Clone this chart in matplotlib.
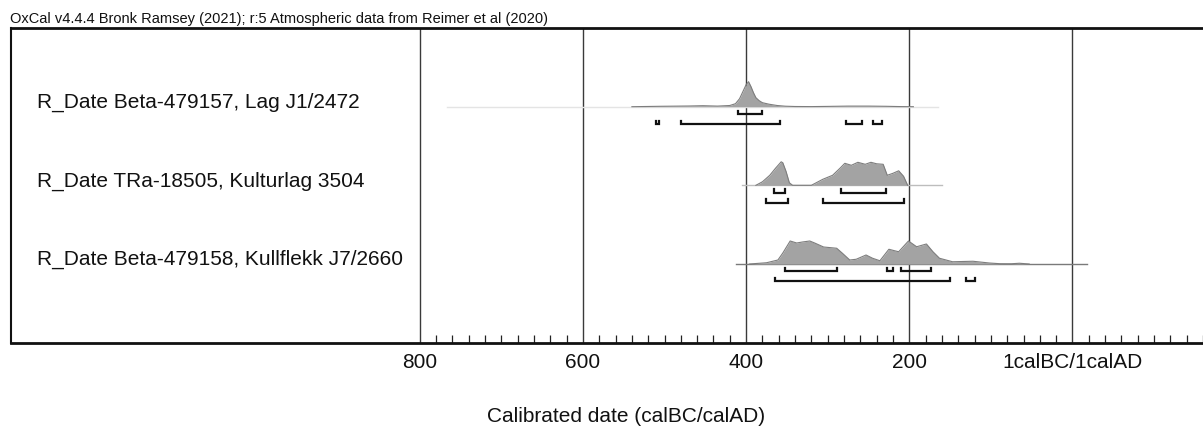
import matplotlib
matplotlib.use('Agg')
import matplotlib.pyplot as plt
import numpy as np

plt.rcParams['font.family'] = ['Liberation Sans', 'DejaVu Sans']

header = "OxCal v4.4.4 Bronk Ramsey (2021); r:5 Atmospheric data from Reimer et al (2020)"
labels = ["R_Date Beta-479157, Lag J1/2472",
          "R_Date TRa-18505, Kulturlag 3504",
          "R_Date Beta-479158, Kullflekk J7/2660"]

# Calendar years BC (positive = BC, negative = AD); relative probability
d1_years = [540, 506, 470, 453, 435, 420, 413, 408, 404, 400, 397, 394, 391, 388,
            384, 380, 372, 362, 352, 340, 320, 300, 275, 250, 228, 210, 195]
d1_prob = [0.0, 0.016, 0.028, 0.04, 0.024, 0.048, 0.12, 0.32, 0.60, 0.88, 1.0, 0.80,
           0.56, 0.36, 0.24, 0.16, 0.10, 0.048, 0.02, 0.008, 0.004, 0.012, 0.024,
           0.024, 0.016, 0.004, 0.0]

d2_years = [388, 380, 371, 364, 357, 355, 351, 347, 343, 320, 306, 294, 285, 279,
            271, 263, 254, 247, 240, 232, 227, 220, 213, 207, 202]
d2_prob = [0.0, 0.14, 0.40, 0.68, 0.94, 0.90, 0.55, 0.10, 0.0, 0.0, 0.24, 0.40, 0.68,
           0.88, 0.80, 0.92, 0.84, 0.92, 0.86, 0.84, 0.40, 0.48, 0.58, 0.36, 0.0]

d3_years = [396, 375, 361, 355, 346, 338, 331, 322, 316, 305, 289, 282, 273, 265,
            253, 245, 236, 225, 218, 213, 201, 191, 179, 171, 163, 147, 122, 102,
            89, 75, 65, 53]
d3_prob = [0.0, 0.05, 0.16, 0.44, 0.92, 0.84, 0.88, 0.92, 0.84, 0.68, 0.63, 0.43,
           0.16, 0.19, 0.36, 0.23, 0.13, 0.59, 0.53, 0.49, 0.92, 0.69, 0.80, 0.49,
           0.23, 0.09, 0.11, 0.04, 0.012, 0.01, 0.03, 0.0]

# Baseline extents (BC)
base_ranges = [(767, 165), (405, 160), (412, -18)]

# 68.3% and 95.4% ranges (BC)
r68 = [[(410, 381)],
       [(366, 352), (284, 228)],
       [(352, 289), (227, 220), (210, 173)]]
r95 = [[(511, 507), (480, 358), (278, 258), (245, 233)],
       [(376, 349), (306, 207)],
       [(364, 150), (130, 120)]]

major_ticks = [800, 600, 400, 200, 0]
major_labels = ["800", "600", "400", "200", "1calBC/1calAD"]
xlabel = "Calibrated date (calBC/calAD)"

# ---- layout (pixels) ----
W, H = 1203, 430
fig = plt.figure(figsize=(W / 100, H / 100), dpi=100)
left_px, right_px, top_px, bot_px = 11, 1203, 28, 343
ax = fig.add_axes([left_px / W, (H - bot_px) / H, (right_px - left_px) / W,
                   (bot_px - top_px) / H])
ax.set_xlim(1301, -159.5)
ax.set_ylim(bot_px, top_px)

baselines = [106.7, 185.3, 264.0]
label_y = [102, 181, 259]
scale = 25.0
data = [(d1_years, d1_prob), (d2_years, d2_prob), (d3_years, d3_prob)]
base_colors = ['#e4e4e4', '#bdbdbd', '#7a7a7a']
FS = 15

for i, (yrs, pr) in enumerate(data):
    b = baselines[i]
    ax.plot(base_ranges[i], [b, b], color=base_colors[i], lw=1, zorder=2)
    yrs = np.array(yrs, float)
    pr = np.array(pr, float)
    ax.fill_between(yrs, b - pr * scale, b, color='#a3a3a3', lw=0, zorder=3)
    ax.plot(yrs, b - pr * scale, color='#7d7d7d', lw=0.8, zorder=4)
    for rows, dy in ((r68[i], 7.3), (r95[i], 17.3)):
        y = b + dy
        for a, c in rows:
            ax.plot([a, a, c, c], [y - 3.5, y, y, y - 3.5], color='#111111',
                    lw=1.6, solid_joinstyle='miter', zorder=5)
    ax.text(26 / (right_px - left_px), label_y[i], labels[i],
            transform=ax.get_yaxis_transform(),
            fontsize=FS, va='center', ha='left', color='#111111')

# axes styling
ax.set_yticks([])
ax.set_xticks(major_ticks)
ax.set_xticklabels(major_labels, fontsize=FS, color='#111111')
ax.set_xticks([v for v in range(-160, 801, 20) if v % 200 != 0], minor=True)
ax.tick_params(axis='x', which='major', direction='in', length=0, pad=7)
ax.tick_params(axis='x', which='minor', direction='in', length=6, width=0.9,
               color='#222222')
ax.grid(axis='x', which='major', color='#3a3a3a', lw=1)
ax.set_axisbelow(True)
ax.spines['right'].set_visible(False)
ax.spines['top'].set_linewidth(2)
ax.spines['left'].set_linewidth(1.5)
ax.spines['bottom'].set_linewidth(2)
for s in ax.spines.values():
    s.set_color('#111111')

fig.text(626 / W, 1 - 417 / H, xlabel, fontsize=FS, ha='center', va='center',
         color='#111111')
fig.text(10 / W, 1 - 19 / H, header, fontsize=10.5, ha='left', va='center',
         color='#111111')

fig.savefig('out.png', dpi=100)
